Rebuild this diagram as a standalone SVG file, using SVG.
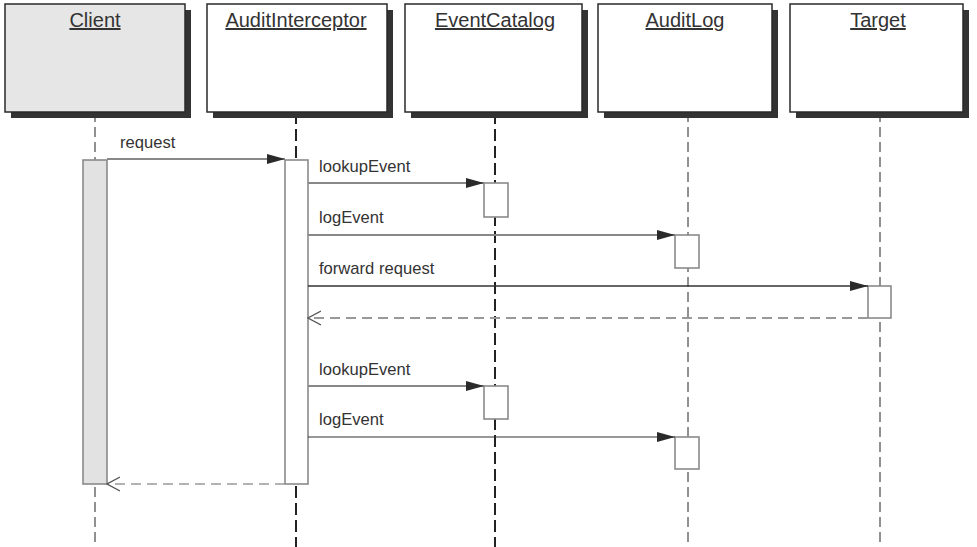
<svg xmlns="http://www.w3.org/2000/svg" width="977" height="547" viewBox="0 0 977 547">
<style>
.hdr{stroke:#2a2a2a;stroke-width:1.5}
.shadow{fill:#333}
.htxt{font-family:"Liberation Sans",Arial,sans-serif;font-size:20px;fill:#333;text-anchor:middle;text-decoration:underline}
.mtxt{font-family:"Liberation Sans",Arial,sans-serif;font-size:16.6px;fill:#333}
.life{stroke:#222;stroke-width:1;stroke-dasharray:10 5;fill:none}
.lifeB{stroke:#222;stroke-width:2;stroke-dasharray:12 5;fill:none}
.act{fill:#fff;stroke:#8a8a8a;stroke-width:1.6}
.msg{fill:none;stroke:#888;stroke-width:2;marker-end:url(#filled)}
.msgD{fill:none;stroke:#333;stroke-width:1.6;marker-end:url(#filled)}
.ret{fill:none;stroke:#999;stroke-width:2;stroke-dasharray:10 6;marker-end:url(#open)}
</style>
<defs>
<marker id="filled" markerUnits="userSpaceOnUse" markerWidth="18" markerHeight="12" refX="18" refY="6" orient="auto"><path d="M0,1 L18,6 L0,11 Z" fill="#2a2a2a"/></marker>
<marker id="open" markerUnits="userSpaceOnUse" markerWidth="14" markerHeight="16" refX="13" refY="8" orient="auto"><path d="M0,1 L13,8 L0,15" fill="none" stroke="#555" stroke-width="1.3"/></marker>
</defs>
<rect width="977" height="547" fill="#fff"/>
<g id="lifelines">
<line class="life" x1="95" y1="112" x2="95" y2="547"/>
<line class="lifeB" x1="296" y1="112" x2="296" y2="547"/>
<line class="lifeB" x1="495" y1="112" x2="495" y2="547"/>
<line class="life" x1="688" y1="112" x2="688" y2="547"/>
<line class="life" x1="880" y1="112" x2="880" y2="547"/>
</g>
<g id="Client">
<rect class="shadow" x="11" y="10" width="180" height="108"/>
<rect class="hdr" x="5" y="4" width="180" height="108" fill="#e6e6e6"/>
<text class="htxt" x="95" y="27">Client</text>
<rect x="83" y="160" width="24" height="324" fill="#e2e2e2" stroke="#8a8a8a" stroke-width="1.6"/>
</g>
<g id="AuditInterceptor">
<rect class="shadow" x="213" y="10" width="180" height="108"/>
<rect class="hdr" x="207" y="4" width="180" height="108" fill="#fff"/>
<text class="htxt" x="296" y="27">AuditInterceptor</text>
<rect class="act" x="285" y="160" width="23" height="324"/>
</g>
<g id="EventCatalog">
<rect class="shadow" x="411" y="10" width="177" height="108"/>
<rect class="hdr" x="405" y="4" width="177" height="108" fill="#fff"/>
<text class="htxt" x="495" y="27">EventCatalog</text>
<rect class="act" x="484" y="183" width="24" height="34"/>
<rect class="act" x="484" y="386" width="24" height="33"/>
</g>
<g id="AuditLog">
<rect class="shadow" x="604" y="10" width="174" height="108"/>
<rect class="hdr" x="598" y="4" width="174" height="108" fill="#fff"/>
<text class="htxt" x="685" y="27">AuditLog</text>
<rect class="act" x="675" y="235" width="24" height="33"/>
<rect class="act" x="675" y="437" width="24" height="32"/>
</g>
<g id="Target">
<rect class="shadow" x="796" y="10" width="173" height="108"/>
<rect class="hdr" x="790" y="4" width="173" height="108" fill="#fff"/>
<text class="htxt" x="878" y="27">Target</text>
<rect class="act" x="868" y="286" width="23" height="32"/>
</g>
<g id="connectors">
<line class="msg" x1="107" y1="159" x2="285" y2="159"/>
<text class="mtxt" x="120" y="148">request</text>
<line class="msg" x1="308" y1="183" x2="484" y2="183"/>
<text class="mtxt" x="319" y="172">lookupEvent</text>
<line class="msg" x1="308" y1="235" x2="675" y2="235"/>
<text class="mtxt" x="319" y="223">logEvent</text>
<line class="msgD" x1="308" y1="286" x2="868" y2="286"/>
<text class="mtxt" x="319" y="274">forward request</text>
<line class="ret" x1="868" y1="318" x2="308" y2="318"/>
<line class="msg" x1="308" y1="386" x2="484" y2="386"/>
<text class="mtxt" x="319" y="375">lookupEvent</text>
<line class="msgD" x1="308" y1="437" x2="675" y2="437" style="stroke-width:1.2"/>
<text class="mtxt" x="319" y="425">logEvent</text>
<line class="ret" x1="285" y1="484" x2="107" y2="484" style="stroke-width:1.5"/>
</g>
</svg>
